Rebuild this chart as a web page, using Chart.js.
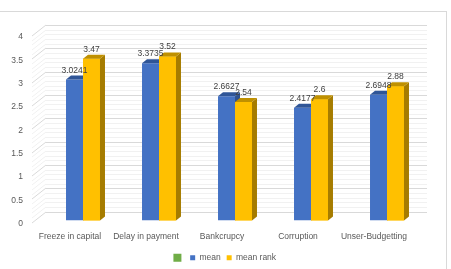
<!DOCTYPE html>
<html>
<head>
<meta charset="utf-8">
<script src="https://cdn.jsdelivr.net/npm/chart.js@4/dist/chart.umd.min.js"></script>
<style>
  html, body { margin: 0; padding: 0; background: #ffffff; }
  #wrap { width: 451px; height: 269px; position: relative; }
</style>
</head>
<body>
<div id="wrap"><canvas id="myChart"></canvas></div>
<script>
// datos del gráfico
const categories = ['Freeze in capital', 'Delay in payment', 'Bankcrupcy', 'Corruption', 'Unser-Budgetting'];
const meanValues = [3.0241, 3.3735, 2.6627, 2.4177, 2.6948];
const meanRankValues = [3.47, 3.52, 2.54, 2.6, 2.88];
const yMin = 0;
const yMax = 4;
const yStep = 0.5;

const FONT = 'Liberation Sans';
const TEXT = '#595959';

// plugin para el efecto 3D, la rejilla de fondo y las etiquetas
const bar3d = {
    id: 'bar3d',
    beforeDraw(chart) {
        const c = chart.ctx;
        c.save();
        c.strokeStyle = '#d9d9d9';
        c.lineWidth = 1;
        c.strokeRect(-1.5, 11.5, 448, 300);
        c.restore();
    },
    beforeDatasetsDraw(chart) {
        const c = chart.ctx;
        const y = chart.scales.y;
        const area = chart.chartArea;
        c.save();
        c.lineWidth = 1;
        // líneas menores y principales
        for (let v = yMin; v <= yMax + 0.001; v += 0.1) {
            const py = Math.round(y.getPixelForValue(v));
            const major = Math.abs(v / yStep - Math.round(v / yStep)) < 0.01;
            c.strokeStyle = major ? '#d9d9d9' : '#f1f1f1';
            c.beginPath();
            c.moveTo(area.left + 1, py - 9 + 0.5);
            c.lineTo(area.right + 2, py - 9 + 0.5);
            c.stroke();
            c.beginPath();
            c.moveTo(area.left - 13, py + 2);
            c.lineTo(area.left + 1, py - 9);
            c.stroke();
        }
        c.restore();
    },
    afterDatasetsDraw(chart) {
        const c = chart.ctx;
        const faces = [
            { index: 1, side: '#2f528f', top: '#2f5597' },
            { index: 2, side: '#a67c00', top: '#bf9000' }
        ];
        const d = 5, v = 4;
        faces.forEach(f => {
            const meta = chart.getDatasetMeta(f.index);
            meta.data.forEach(el => {
                const p = el.getProps(['x', 'y', 'base', 'width'], true);
                const left = p.x - p.width / 2;
                const right = p.x + p.width / 2;
                if (f.index === 2) el.draw(c);
                c.save();
                c.fillStyle = f.side;
                c.beginPath();
                c.moveTo(right, p.y);
                c.lineTo(right + d, p.y - v);
                c.lineTo(right + d, p.base - v);
                c.lineTo(right, p.base);
                c.closePath();
                c.fill();
                c.fillStyle = f.top;
                c.beginPath();
                c.moveTo(left, p.y);
                c.lineTo(left + d, p.y - v);
                c.lineTo(right + d, p.y - v);
                c.lineTo(right, p.y);
                c.closePath();
                c.fill();
                c.restore();
            });
        });
        // etiquetas de valores
        c.save();
        c.font = '8.5px "' + FONT + '"';
        c.fillStyle = '#404040';
        c.textAlign = 'center';
        c.textBaseline = 'bottom';
        [1, 2].forEach(i => {
            const meta = chart.getDatasetMeta(i);
            const values = chart.data.datasets[i].data;
            meta.data.forEach((el, j) => {
                const p = el.getProps(['x', 'y'], true);
                c.fillText(String(values[j]), p.x, p.y - 5);
            });
        });
        c.restore();
    }
};

let ctx = document.getElementById('myChart');
let chart = new Chart(ctx, {
    type: 'bar',
    data: {
        labels: categories,
        datasets: [
            {
                type: 'line',
                label: '',
                data: [],
                backgroundColor: '#70ad47',
                borderColor: '#70ad47'
            },
            {
                label: 'mean',
                data: meanValues,
                backgroundColor: '#4472c4',
                borderWidth: 0
            },
            {
                label: 'mean rank',
                data: meanRankValues,
                backgroundColor: '#ffc000',
                borderWidth: 0
            }
        ]
    },
    options: {
        responsive: true,
        maintainAspectRatio: false,
        animation: false,
        categoryPercentage: 0.447,
        barPercentage: 1,
        layout: { padding: { top: 34, right: 0, bottom: -3, left: 0 } },
        plugins: {
            tooltip: { enabled: false },
            legend: {
                position: 'bottom',
                labels: {
                    boxWidth: 5,
                    boxHeight: 5,
                    padding: 6,
                    color: TEXT,
                    font: { family: FONT, size: 8.5 }
                }
            }
        },
        scales: {
            x: {
                grid: { display: false, drawTicks: false },
                border: { display: false },
                ticks: {
                    color: TEXT,
                    font: { family: FONT, size: 8.5 },
                    padding: 11,
                    labelOffset: -13,
                    maxRotation: 0,
                    minRotation: 0,
                    autoSkip: false
                },
                afterFit(scale) { scale.height = 27; }
            },
            y: {
                min: yMin,
                max: yMax,
                grid: { display: false, drawTicks: false },
                border: { display: false },
                ticks: {
                    stepSize: yStep,
                    color: TEXT,
                    font: { family: FONT, size: 8.5 },
                    padding: 22,
                    labelOffset: 3,
                    callback: (value) => String(value)
                },
                afterFit(scale) { scale.width = 45; }
            },
            // eje vacío a la derecha para dejar el margen
            yRight: {
                position: 'right',
                min: yMin,
                max: yMax,
                grid: { display: false, drawTicks: false },
                border: { display: false },
                ticks: { display: false },
                afterFit(scale) { scale.width = 26; }
            }
        }
    },
    plugins: [bar3d]
});
</script>
</body>
</html>
